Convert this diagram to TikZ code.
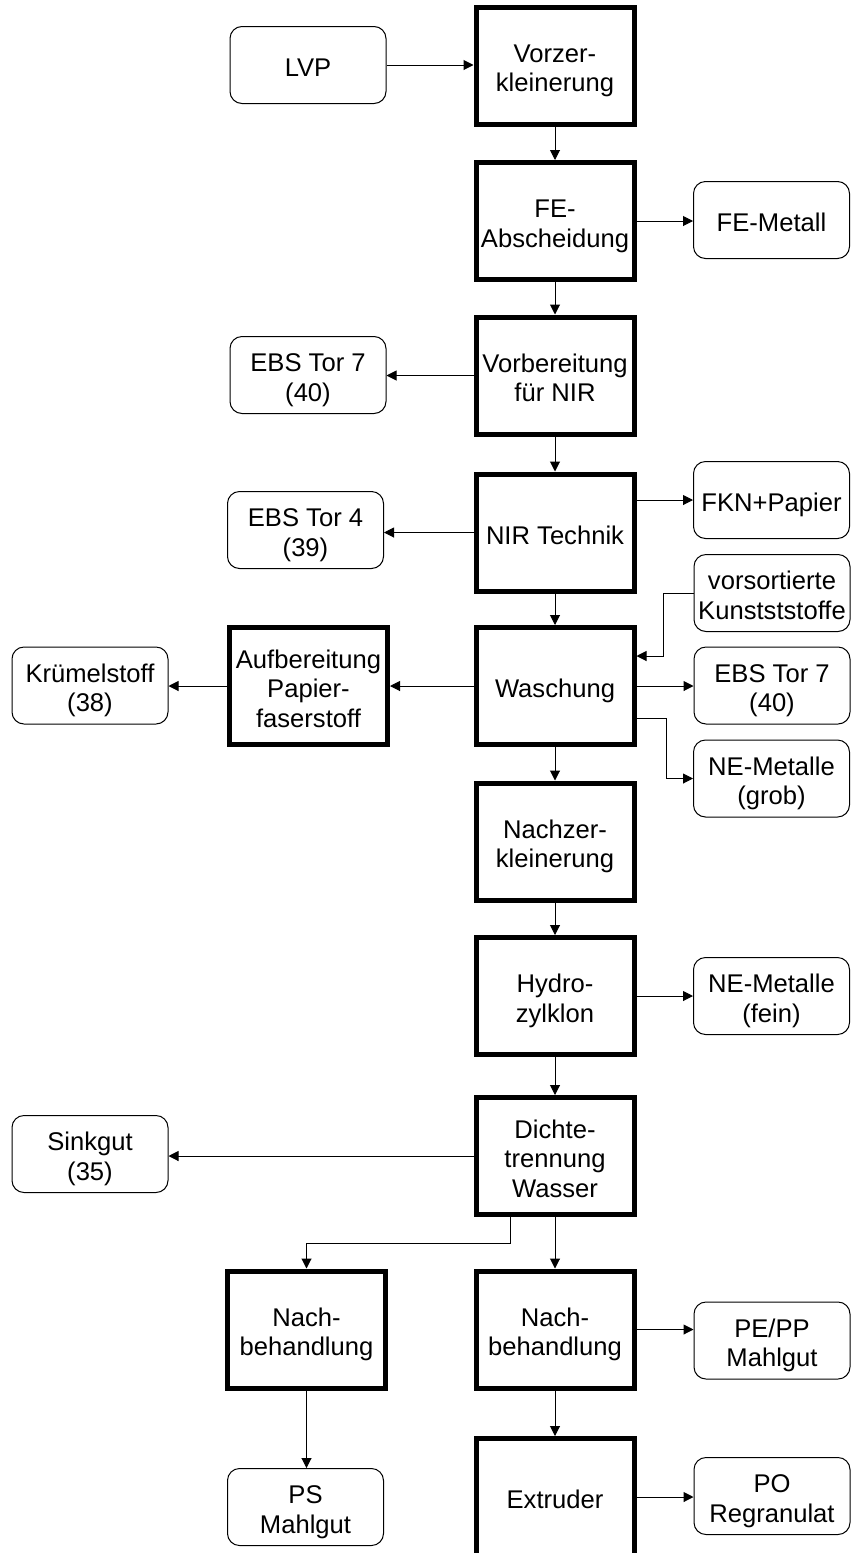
\documentclass[tikz,border=0pt]{standalone}
\usepackage{fontspec}
\setmainfont{Liberation Sans}
\usetikzlibrary{arrows.meta,calc}
\newcommand\nt[1]{\rule{0pt}{29.2pt}#1\rule[-6pt]{0pt}{0pt}}
\begin{document}
\begin{tikzpicture}[x=1pt,y=-1pt,
  every node/.style={font=\fontsize{25.6}{29.4}\selectfont, align=center, inner sep=0pt},
  proc/.style={draw, line width=5pt, minimum width=158pt, minimum height=117pt},
  prod/.style={draw, line width=1pt, rounded corners=12pt, minimum width=156pt, minimum height=77pt},
  arr/.style={line width=1pt, -{Triangle[length=10pt,width=10pt]}}]
\useasboundingbox (0,0) rectangle (851,1553);
\clip (0,0) rectangle (851,1553);
% process boxes
\node[proc] (vorz) at (555,65.5) {\nt{Vorzer-\\kleinerung}};
\node[proc] (fe) at (555,221) {\nt{FE-\\Abscheidung}};
\node[proc] (vorb) at (555,375.5) {\nt{Vorbereitung\\für NIR}};
\node[proc] (nir) at (555,532.5) {\nt{NIR Technik}};
\node[proc] (wasch) at (555,686) {\nt{Waschung}};
\node[proc] (aufb) at (308.5,686) {\nt{Aufbereitung\\Papier-\\faserstoff}};
\node[proc] (nachz) at (555,841.5) {\nt{Nachzer-\\kleinerung}};
\node[proc] (hydro) at (555,996) {\nt{Hydro-\\zylklon}};
\node[proc] (dichte) at (555,1156) {\nt{Dichte-\\trennung\\Wasser}};
\node[proc] (nachl) at (306.5,1329.5) {\nt{Nach-\\behandlung}};
\node[proc] (nachr) at (555,1329.5) {\nt{Nach-\\behandlung}};
\node[proc] (extr) at (555,1497) {\nt{Extruder}};
% product boxes
\node[prod] (lvp) at (308,65) {\nt{LVP}};
\node[prod] (femet) at (771.5,220) {\nt{FE-Metall}};
\node[prod] (ebsl) at (308,375) {\nt{EBS Tor 7\\(40)}};
\node[prod] (fkn) at (771.5,500) {\nt{FKN+Papier}};
\node[prod] (ebs4) at (305.5,530) {\nt{EBS Tor 4\\(39)}};
\node[prod] (vors) at (772,593) {\nt{vorsortierte\\Kunstststoffe}};
\node[prod] (ebsr) at (772,685.5) {\nt{EBS Tor 7\\(40)}};
\node[prod] (negrob) at (771.5,778.5) {\nt{NE-Metalle\\(grob)}};
\node[prod] (kruem) at (90,685.5) {\nt{Krümelstoff\\(38)}};
\node[prod] (nefein) at (771.5,996) {\nt{NE-Metalle\\(fein)}};
\node[prod] (sink) at (90,1154) {\nt{Sinkgut\\(35)}};
\node[prod] (pepp) at (772,1340.5) {\nt{PE/PP\\Mahlgut}};
\node[prod] (ps) at (305.5,1507) {\nt{PS\\Mahlgut}};
\node[prod] (po) at (772,1496) {\nt{PO\\Regranulat}};
% connectors
\draw[arr] (lvp.east) -- (lvp.east -| vorz.west);
\draw[arr] (vorz) -- (fe);
\draw[arr] (fe.east) -- (fe.east -| femet.west);
\draw[arr] (fe) -- (vorb);
\draw[arr] (vorb.west) -- (vorb.west -| ebsl.east);
\draw[arr] (vorb) -- (nir);
\draw[arr] (nir.east |- fkn.west) -- (fkn.west);
\draw[arr] (nir.west) -- (nir.west -| ebs4.east);
\draw[arr] (nir) -- (wasch);
\draw[arr] (vors.west) -- ++(-30,0) |- ($(wasch.east)+(0,-30)$);
\draw[arr] (wasch.east) -- (wasch.east -| ebsr.west);
\draw[arr] ($(wasch.east)+(0,32)$) -- ++(30,0) |- (negrob.west);
\draw[arr] (wasch) -- (aufb);
\draw[arr] (aufb.west) -- (aufb.west -| kruem.east);
\draw[arr] (wasch) -- (nachz);
\draw[arr] (nachz) -- (hydro);
\draw[arr] (hydro.east) -- (hydro.east -| nefein.west);
\draw[arr] (hydro) -- (dichte);
\draw[arr] (dichte.west) -- (dichte.west -| sink.east);
\draw[arr] ($(dichte.south)+(-45,0)$) -- ++(0,26) -| (nachl.north);
\draw[arr] (dichte) -- (nachr);
\draw[arr] (nachr.east) -- (nachr.east -| pepp.west);
\draw[arr] (nachl.south) -- (nachl.south |- ps.north);
\draw[arr] (nachr) -- (extr);
\draw[arr] (extr.east) -- (extr.east -| po.west);
\end{tikzpicture}
\end{document}
